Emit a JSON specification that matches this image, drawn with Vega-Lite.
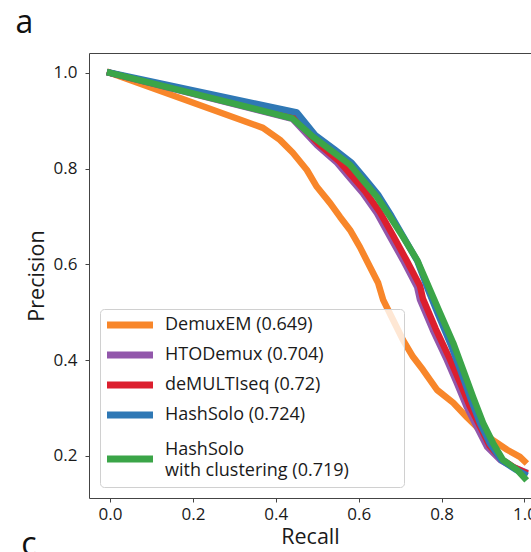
{
  "$schema": "https://vega.github.io/schema/vega-lite/v6.json",
  "width": 442,
  "height": 445,
  "autosize": {"type": "none"},
  "padding": {"left": 89, "top": 53, "right": 0, "bottom": 54},
  "background": "white",
  "config": {
    "view": {"stroke": null},
    "font": "Open Sans",
    "axis": {
      "grid": false,
      "domainColor": "#444444",
      "tickColor": "#444444",
      "labelColor": "#1a1a1a",
      "titleColor": "#1a1a1a",
      "labelFont": "Open Sans",
      "titleFont": "Open Sans",
      "labelFontSize": 17,
      "titleFontSize": 21.5,
      "titleFontWeight": "normal",
      "tickSize": 4,
      "domainWidth": 1,
      "tickWidth": 1
    }
  },
  "data": {
    "values": [
      {"method": "DemuxEM (0.649)", "recall": 0.0, "precision": 1.0},
      {"method": "DemuxEM (0.649)", "recall": 0.369, "precision": 0.885},
      {"method": "DemuxEM (0.649)", "recall": 0.41, "precision": 0.86},
      {"method": "DemuxEM (0.649)", "recall": 0.441, "precision": 0.833},
      {"method": "DemuxEM (0.649)", "recall": 0.475, "precision": 0.797},
      {"method": "DemuxEM (0.649)", "recall": 0.499, "precision": 0.762},
      {"method": "DemuxEM (0.649)", "recall": 0.531, "precision": 0.728},
      {"method": "DemuxEM (0.649)", "recall": 0.555, "precision": 0.699},
      {"method": "DemuxEM (0.649)", "recall": 0.579, "precision": 0.672},
      {"method": "DemuxEM (0.649)", "recall": 0.603, "precision": 0.636},
      {"method": "DemuxEM (0.649)", "recall": 0.627, "precision": 0.595},
      {"method": "DemuxEM (0.649)", "recall": 0.647, "precision": 0.561},
      {"method": "DemuxEM (0.649)", "recall": 0.659, "precision": 0.526},
      {"method": "DemuxEM (0.649)", "recall": 0.683, "precision": 0.484},
      {"method": "DemuxEM (0.649)", "recall": 0.707, "precision": 0.442},
      {"method": "DemuxEM (0.649)", "recall": 0.731, "precision": 0.407},
      {"method": "DemuxEM (0.649)", "recall": 0.755, "precision": 0.38},
      {"method": "DemuxEM (0.649)", "recall": 0.789, "precision": 0.338},
      {"method": "DemuxEM (0.649)", "recall": 0.828, "precision": 0.311},
      {"method": "DemuxEM (0.649)", "recall": 0.861, "precision": 0.281},
      {"method": "DemuxEM (0.649)", "recall": 0.893, "precision": 0.254},
      {"method": "DemuxEM (0.649)", "recall": 0.924, "precision": 0.233},
      {"method": "DemuxEM (0.649)", "recall": 0.958, "precision": 0.213},
      {"method": "DemuxEM (0.649)", "recall": 0.989, "precision": 0.198},
      {"method": "DemuxEM (0.649)", "recall": 1.0, "precision": 0.189},

      {"method": "HTODemux (0.704)", "recall": 0.0, "precision": 1.0},
      {"method": "HTODemux (0.704)", "recall": 0.44, "precision": 0.904},
      {"method": "HTODemux (0.704)", "recall": 0.499, "precision": 0.849},
      {"method": "HTODemux (0.704)", "recall": 0.548, "precision": 0.812},
      {"method": "HTODemux (0.704)", "recall": 0.579, "precision": 0.78},
      {"method": "HTODemux (0.704)", "recall": 0.61, "precision": 0.749},
      {"method": "HTODemux (0.704)", "recall": 0.644, "precision": 0.707},
      {"method": "HTODemux (0.704)", "recall": 0.676, "precision": 0.657},
      {"method": "HTODemux (0.704)", "recall": 0.707, "precision": 0.609},
      {"method": "HTODemux (0.704)", "recall": 0.741, "precision": 0.553},
      {"method": "HTODemux (0.704)", "recall": 0.748, "precision": 0.526},
      {"method": "HTODemux (0.704)", "recall": 0.779, "precision": 0.463},
      {"method": "HTODemux (0.704)", "recall": 0.813, "precision": 0.4},
      {"method": "HTODemux (0.704)", "recall": 0.837, "precision": 0.352},
      {"method": "HTODemux (0.704)", "recall": 0.861, "precision": 0.302},
      {"method": "HTODemux (0.704)", "recall": 0.885, "precision": 0.261},
      {"method": "HTODemux (0.704)", "recall": 0.91, "precision": 0.219},
      {"method": "HTODemux (0.704)", "recall": 0.941, "precision": 0.192},
      {"method": "HTODemux (0.704)", "recall": 0.972, "precision": 0.177},
      {"method": "HTODemux (0.704)", "recall": 1.0, "precision": 0.167},

      {"method": "deMULTIseq (0.72)", "recall": 0.0, "precision": 1.0},
      {"method": "deMULTIseq (0.72)", "recall": 0.445, "precision": 0.906},
      {"method": "deMULTIseq (0.72)", "recall": 0.503, "precision": 0.852},
      {"method": "deMULTIseq (0.72)", "recall": 0.553, "precision": 0.815},
      {"method": "deMULTIseq (0.72)", "recall": 0.585, "precision": 0.783},
      {"method": "deMULTIseq (0.72)", "recall": 0.616, "precision": 0.752},
      {"method": "deMULTIseq (0.72)", "recall": 0.651, "precision": 0.709},
      {"method": "deMULTIseq (0.72)", "recall": 0.683, "precision": 0.66},
      {"method": "deMULTIseq (0.72)", "recall": 0.714, "precision": 0.611},
      {"method": "deMULTIseq (0.72)", "recall": 0.748, "precision": 0.555},
      {"method": "deMULTIseq (0.72)", "recall": 0.755, "precision": 0.528},
      {"method": "deMULTIseq (0.72)", "recall": 0.786, "precision": 0.465},
      {"method": "deMULTIseq (0.72)", "recall": 0.82, "precision": 0.402},
      {"method": "deMULTIseq (0.72)", "recall": 0.844, "precision": 0.354},
      {"method": "deMULTIseq (0.72)", "recall": 0.868, "precision": 0.304},
      {"method": "deMULTIseq (0.72)", "recall": 0.892, "precision": 0.263},
      {"method": "deMULTIseq (0.72)", "recall": 0.916, "precision": 0.221},
      {"method": "deMULTIseq (0.72)", "recall": 0.945, "precision": 0.193},
      {"method": "deMULTIseq (0.72)", "recall": 0.975, "precision": 0.176},
      {"method": "deMULTIseq (0.72)", "recall": 1.0, "precision": 0.166},

      {"method": "HashSolo (0.724)", "recall": 0.0, "precision": 1.0},
      {"method": "HashSolo (0.724)", "recall": 0.451, "precision": 0.917},
      {"method": "HashSolo (0.724)", "recall": 0.495, "precision": 0.87},
      {"method": "HashSolo (0.724)", "recall": 0.543, "precision": 0.839},
      {"method": "HashSolo (0.724)", "recall": 0.583, "precision": 0.812},
      {"method": "HashSolo (0.724)", "recall": 0.615, "precision": 0.779},
      {"method": "HashSolo (0.724)", "recall": 0.648, "precision": 0.744},
      {"method": "HashSolo (0.724)", "recall": 0.679, "precision": 0.701},
      {"method": "HashSolo (0.724)", "recall": 0.709, "precision": 0.656},
      {"method": "HashSolo (0.724)", "recall": 0.742, "precision": 0.606},
      {"method": "HashSolo (0.724)", "recall": 0.762, "precision": 0.56},
      {"method": "HashSolo (0.724)", "recall": 0.768, "precision": 0.546},
      {"method": "HashSolo (0.724)", "recall": 0.791, "precision": 0.497},
      {"method": "HashSolo (0.724)", "recall": 0.822, "precision": 0.433},
      {"method": "HashSolo (0.724)", "recall": 0.846, "precision": 0.378},
      {"method": "HashSolo (0.724)", "recall": 0.87, "precision": 0.32},
      {"method": "HashSolo (0.724)", "recall": 0.894, "precision": 0.266},
      {"method": "HashSolo (0.724)", "recall": 0.918, "precision": 0.224},
      {"method": "HashSolo (0.724)", "recall": 0.945, "precision": 0.191},
      {"method": "HashSolo (0.724)", "recall": 0.978, "precision": 0.172},
      {"method": "HashSolo (0.724)", "recall": 1.0, "precision": 0.162},

      {"method": "HashSolo with clustering (0.719)", "recall": 0.0, "precision": 1.0},
      {"method": "HashSolo with clustering (0.719)", "recall": 0.44, "precision": 0.905},
      {"method": "HashSolo with clustering (0.719)", "recall": 0.49, "precision": 0.866},
      {"method": "HashSolo with clustering (0.719)", "recall": 0.538, "precision": 0.835},
      {"method": "HashSolo with clustering (0.719)", "recall": 0.579, "precision": 0.808},
      {"method": "HashSolo with clustering (0.719)", "recall": 0.61, "precision": 0.776},
      {"method": "HashSolo with clustering (0.719)", "recall": 0.644, "precision": 0.741},
      {"method": "HashSolo with clustering (0.719)", "recall": 0.676, "precision": 0.699},
      {"method": "HashSolo with clustering (0.719)", "recall": 0.707, "precision": 0.657},
      {"method": "HashSolo with clustering (0.719)", "recall": 0.741, "precision": 0.609},
      {"method": "HashSolo with clustering (0.719)", "recall": 0.765, "precision": 0.561},
      {"method": "HashSolo with clustering (0.719)", "recall": 0.772, "precision": 0.547},
      {"method": "HashSolo with clustering (0.719)", "recall": 0.796, "precision": 0.499},
      {"method": "HashSolo with clustering (0.719)", "recall": 0.828, "precision": 0.436},
      {"method": "HashSolo with clustering (0.719)", "recall": 0.852, "precision": 0.38},
      {"method": "HashSolo with clustering (0.719)", "recall": 0.876, "precision": 0.323},
      {"method": "HashSolo with clustering (0.719)", "recall": 0.9, "precision": 0.269},
      {"method": "HashSolo with clustering (0.719)", "recall": 0.924, "precision": 0.227},
      {"method": "HashSolo with clustering (0.719)", "recall": 0.948, "precision": 0.192},
      {"method": "HashSolo with clustering (0.719)", "recall": 0.982, "precision": 0.171},
      {"method": "HashSolo with clustering (0.719)", "recall": 1.0, "precision": 0.154}
    ]
  },
  "layer": [
    {
      "mark": {"type": "line", "strokeWidth": 6.5, "strokeCap": "square", "strokeJoin": "round"},
      "encoding": {
        "x": {
          "field": "recall",
          "type": "quantitative",
          "scale": {"domain": [-0.0507, 1.0157], "nice": false, "zero": false},
          "axis": {
            "orient": "bottom",
            "title": "Recall",
            "values": [0, 0.2, 0.4, 0.6, 0.8, 1.0],
            "format": ".1f",
            "labelFlush": false,
            "labelOverlap": false,
            "labelPadding": 4,
            "titlePadding": 4
          }
        },
        "y": {
          "field": "precision",
          "type": "quantitative",
          "scale": {"domain": [0.1123, 1.0413], "nice": false, "zero": false},
          "axis": {
            "title": "Precision",
            "values": [0.2, 0.4, 0.6, 0.8, 1.0],
            "format": ".1f",
            "labelPadding": 8,
            "titlePadding": 5
          }
        },
        "color": {
          "field": "method",
          "type": "nominal",
          "scale": {
            "domain": ["DemuxEM (0.649)", "HTODemux (0.704)", "deMULTIseq (0.72)", "HashSolo (0.724)", "HashSolo with clustering (0.719)"],
            "range": ["#f8862a", "#9257ab", "#dc1f2e", "#2f78b5", "#3ba548"]
          },
          "legend": {
            "title": null,
            "orient": "none",
            "legendX": 11,
            "legendY": 256,
            "symbolType": "M-4.545,0H4.545",
            "symbolSize": 121,
            "symbolStrokeWidth": 7,
            "symbolOffset": 12,
            "clipHeight": 18,
            "labelFont": "Open Sans",
            "labelFontSize": 18,
            "labelColor": "#1a1a1a",
            "labelLimit": 400,
            "labelOffset": 28,
            "rowPadding": 12,
            "padding": 7,
            "cornerRadius": 4,
            "fillColor": "rgba(255,255,255,0.8)",
            "strokeColor": "#d0d0d0",
            "labelExpr": "datum.label == 'HashSolo with clustering (0.719)' ? ['HashSolo', 'with clustering (0.719)'] : datum.label",
            "encode": {
              "labels": {"update": {
                "lineHeight": {"value": 21},
                "y": {"signal": "datum.value === 'HashSolo with clustering (0.719)' ? 14 : 9"}
              }},
              "symbols": {"update": {
                "y": {"signal": "datum.value === 'HashSolo with clustering (0.719)' ? 23 : 9"}
              }},
              "entries": {"update": {
                "width": {"value": 290},
                "height": {"signal": "datum.value === 'HashSolo with clustering (0.719)' ? 43 : 18"}
              }}
            }
          }
        }
      }
    },
    {
      "data": {"values": [{"label": "a"}]},
      "mark": {"type": "text", "fontSize": 32, "align": "center", "baseline": "alphabetic", "color": "#111111", "font": "Open Sans"},
      "encoding": {
        "x": {"datum": -0.2063, "type": "quantitative", "axis": {"orient": "top", "labels": false, "ticks": false, "title": null, "domain": true, "grid": false}},
        "y": {"datum": 1.0831, "type": "quantitative"},
        "text": {"field": "label"}
      }
    },
    {
      "data": {"values": [{"label": "c"}]},
      "mark": {"type": "text", "fontSize": 32, "align": "center", "baseline": "alphabetic", "color": "#111111", "font": "Open Sans"},
      "encoding": {
        "x": {"datum": -0.1954, "type": "quantitative", "axis": null},
        "y": {"datum": -0.006, "type": "quantitative"},
        "text": {"field": "label"}
      }
    }
  ],
  "resolve": {"axis": {"x": "independent"}}
}
